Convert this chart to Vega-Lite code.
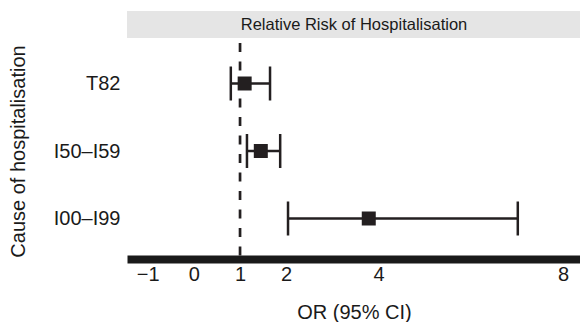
{
  "$schema": "https://vega.github.io/schema/vega-lite/v6.json",
  "padding": {"left": 8, "top": 11, "right": 0, "bottom": 0},
  "spacing": 3,
  "config": {
    "view": {"stroke": null},
    "font": "Liberation Sans",
    "axis": {"labelFont": "Liberation Sans", "titleFont": "Liberation Sans", "grid": false}
  },
  "datasets": {
    "est": [
      {"cause": "T82", "or": 1.1, "lo": 0.8, "hi": 1.65},
      {"cause": "I50–I59", "or": 1.45, "lo": 1.15, "hi": 1.87},
      {"cause": "I00–I99", "or": 3.79, "lo": 2.04, "hi": 7.02}
    ],
    "ref": [{"v": 1}],
    "strip": [{"label": "Relative Risk of Hospitalisation"}]
  },
  "vconcat": [
    {
      "width": 454,
      "height": 27,
      "view": {"fill": "#e5e5e5", "stroke": null},
      "data": {"name": "strip"},
      "mark": {"type": "text", "fontSize": 16.5, "color": "#1a1a1a", "font": "Liberation Sans"},
      "encoding": {"text": {"field": "label"}}
    },
    {
      "width": 454,
      "height": 216,
      "layer": [
        {
          "data": {"name": "ref"},
          "mark": {"type": "rule", "strokeDash": [9, 9.5], "strokeWidth": 2.7, "color": "#231f20"},
          "encoding": {
            "x": {
              "field": "v", "type": "quantitative",
              "scale": {"domain": [-1.45, 8.39], "nice": false, "zero": false},
              "axis": {
                "values": [-1, 0, 1, 2, 4, 8],
                "ticks": false,
                "domainWidth": 8,
                "domainColor": "#1a1a1a",
                "labelFontSize": 20,
                "labelColor": "#1a1a1a",
                "labelPadding": 5,
                "labelFlush": false,
                "labelOverlap": false,
                "title": "OR (95% CI)",
                "titleFontSize": 20,
                "titleFontWeight": "normal",
                "titleColor": "#1a1a1a",
                "titlePadding": 18
              }
            }
          }
        },
        {
          "data": {"name": "est"},
          "mark": {"type": "rule", "strokeWidth": 2.5, "color": "#231f20"},
          "encoding": {
            "x": {"field": "lo", "type": "quantitative"},
            "x2": {"field": "hi"},
            "y": {
              "field": "cause", "type": "nominal",
              "sort": ["T82", "I50–I59", "I00–I99"],
              "scale": {"type": "point", "padding": 0.6},
              "axis": {
                "domain": false,
                "ticks": false,
                "labelFontSize": 20,
                "labelColor": "#1a1a1a",
                "labelPadding": 7,
                "title": "Cause of hospitalisation",
                "titleFontSize": 20,
                "titleFontWeight": "normal",
                "titleColor": "#1a1a1a",
                "titlePadding": 25
              }
            }
          }
        },
        {
          "data": {"name": "est"},
          "mark": {"type": "tick", "size": 34, "thickness": 2.5, "color": "#231f20", "opacity": 1, "orient": "vertical"},
          "encoding": {
            "x": {"field": "lo", "type": "quantitative"},
            "y": {"field": "cause", "type": "nominal", "sort": ["T82", "I50–I59", "I00–I99"]}
          }
        },
        {
          "data": {"name": "est"},
          "mark": {"type": "tick", "size": 34, "thickness": 2.5, "color": "#231f20", "opacity": 1, "orient": "vertical"},
          "encoding": {
            "x": {"field": "hi", "type": "quantitative"},
            "y": {"field": "cause", "type": "nominal", "sort": ["T82", "I50–I59", "I00–I99"]}
          }
        },
        {
          "data": {"name": "est"},
          "mark": {"type": "square", "size": 196, "filled": true, "opacity": 1, "color": "#231f20"},
          "encoding": {
            "x": {"field": "or", "type": "quantitative"},
            "y": {"field": "cause", "type": "nominal", "sort": ["T82", "I50–I59", "I00–I99"]}
          }
        }
      ]
    }
  ]
}
